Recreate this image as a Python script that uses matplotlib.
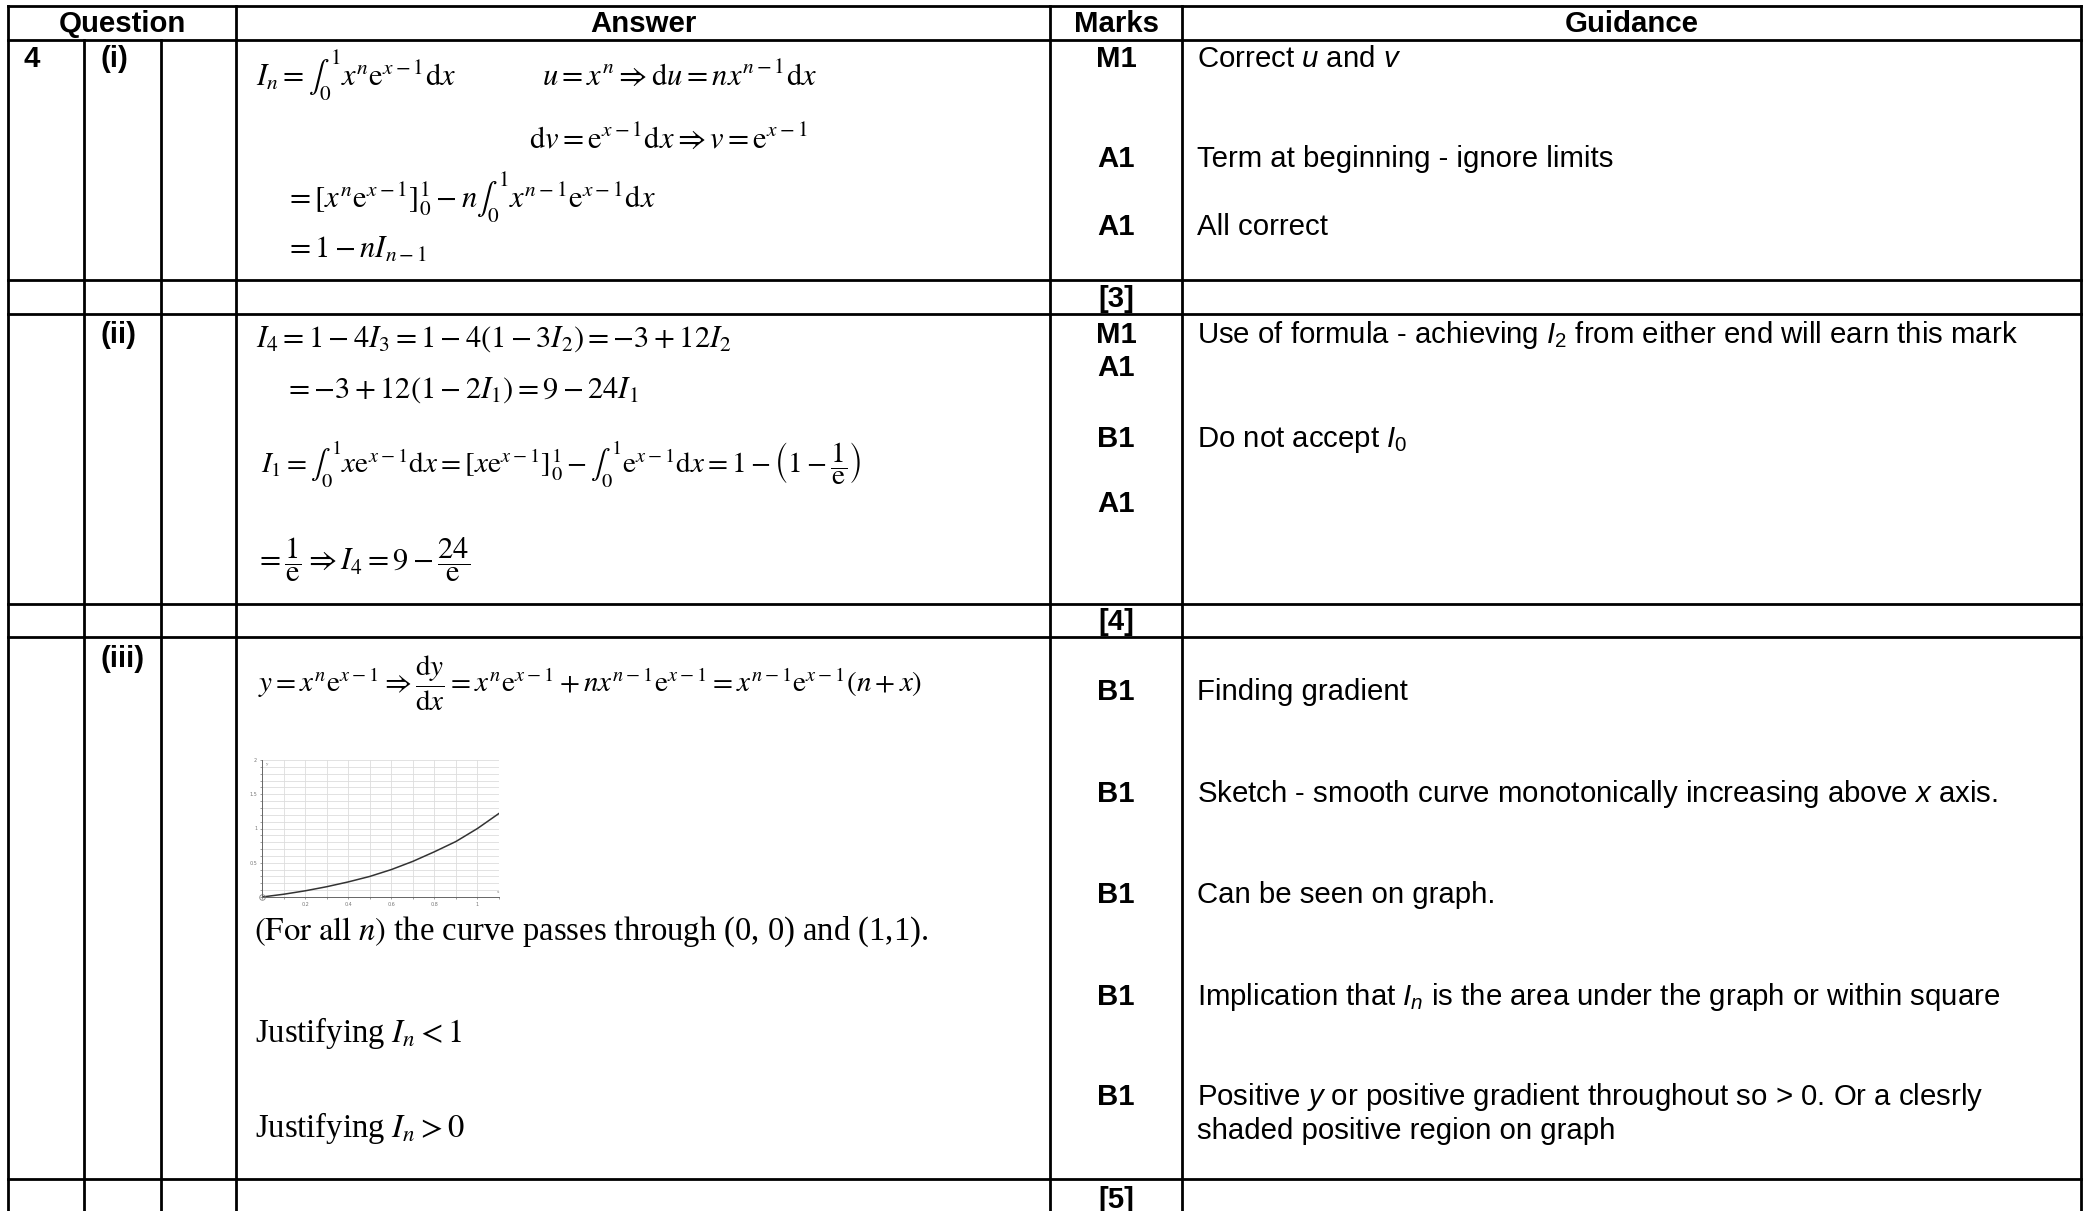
import matplotlib
matplotlib.use('Agg')  # no display
import matplotlib.pyplot as plt
from matplotlib.ticker import MultipleLocator

# sans text with italic maths letters (u, v, I_n ...) in the guidance column
plt.rcParams['mathtext.fontset'] = 'custom'
plt.rcParams['mathtext.rm'] = 'Liberation Sans'
plt.rcParams['mathtext.it'] = 'Liberation Sans:italic'
plt.rcParams['mathtext.bf'] = 'Liberation Sans:bold'

# ---- table content ----
headers = ['Question', 'Answer', 'Marks', 'Guidance']
question_no = '4'
parts = ['(i)', '(ii)', '(iii)']
totals = ['[3]', '[4]', '[5]']

answers_i = [
    r'$I_n=\int_0^1 x^n\mathrm{e}^{x-1}\mathrm{d}x$',
    r'$u=x^n\Rightarrow\mathrm{d}u=nx^{n-1}\mathrm{d}x$',
    r'$\mathrm{d}v=\mathrm{e}^{x-1}\mathrm{d}x\Rightarrow v=\mathrm{e}^{x-1}$',
    r'$=\left[x^n\mathrm{e}^{x-1}\right]_0^1-n\int_0^1 x^{n-1}\mathrm{e}^{x-1}\mathrm{d}x$',
    r'$=1-nI_{n-1}$',
]
marks_i = ['M1', 'A1', 'A1']
guidance_i = ['Correct $u$ and $v$', 'Term at beginning - ignore limits', 'All correct']

answers_ii = [
    r'$I_4=1-4I_3=1-4(1-3I_2)=-3+12I_2$',
    r'$=-3+12(1-2I_1)=9-24I_1$',
    r'$I_1=\int_0^1 x\mathrm{e}^{x-1}\mathrm{d}x=\left[x\mathrm{e}^{x-1}\right]_0^1-\int_0^1\mathrm{e}^{x-1}\mathrm{d}x=1-\left(1-\dfrac{1}{\mathrm{e}}\right)$',
    r'$=\dfrac{1}{\mathrm{e}}\Rightarrow I_4=9-\dfrac{24}{\mathrm{e}}$',
]
marks_ii = ['M1', 'A1', 'B1', 'A1']
guidance_ii = ['Use of formula - achieving $I_2$ from either end will earn this mark', '',
               'Do not accept $I_0$', '']

answers_iii = [
    r'$y=x^n\mathrm{e}^{x-1}\Rightarrow\dfrac{\mathrm{d}y}{\mathrm{d}x}=x^n\mathrm{e}^{x-1}+nx^{n-1}\mathrm{e}^{x-1}=x^{n-1}\mathrm{e}^{x-1}\left(n+x\right)$',
    r'$\left(\mathrm{For\ all\ }n\right)$ the curve passes through (0, 0) and (1,1).',
    r'Justifying $I_n<1$',
    r'Justifying $I_n>0$',
]
marks_iii = ['B1', 'B1', 'B1', 'B1', 'B1']
guidance_iii = ['Finding gradient',
                'Sketch - smooth curve monotonically increasing above $x$ axis.',
                'Can be seen on graph.',
                'Implication that $I_n$ is the area under the graph or within square',
                'Positive $y$ or positive gradient throughout so > 0. Or a clesrly',
                'shaded positive region on graph']

# sketch of y = x e^(x-1)
curve_x = [0, 0.1, 0.2, 0.3, 0.4, 0.5, 0.6, 0.7, 0.8, 0.9, 1.0, 1.1]
curve_y = [0, 0.04, 0.09, 0.15, 0.22, 0.30, 0.40, 0.52, 0.66, 0.81, 1.0, 1.22]
sketch_xticks = [0.2, 0.4, 0.6, 0.8, 1]
sketch_yticks = [0.5, 1, 1.5, 2]

# ---- layout (pixels) ----
W, H = 2094, 1211
cols = [8, 84, 161, 236, 1050, 1182, 2081]
rows = [6, 40, 280, 314, 604, 637, 1179]
ans_pos_i = [(256, 85), (542, 85), (529, 148), (285, 207), (285, 258)]
ans_pos_ii = [(256, 347), (284, 398), (261, 473), (255, 570)]
ans_pos_iii = [(258, 692), (254, 940), (255, 1042), (255, 1137)]
ans_size_i = [22, 22, 22, 22, 22]
ans_size_ii = [22, 22, 21, 22]
ans_size_iii = [21, 23.5, 23.5, 23.5]
mark_y_i = [67, 167, 235]
mark_y_ii = [343, 376, 447, 512]
mark_y_iii = [700, 802, 903, 1005, 1105, 1139]
part_y = [67, 343, 667]
total_y = [307, 630, 1208]

SANS = 21.2

fig = plt.figure(figsize=(W / 100, H / 100), dpi=100)
ax = fig.add_axes([0, 0, 1, 1])
ax.set_xlim(0, W)
ax.set_ylim(H, 0)
ax.axis('off')

lw = 2.0
# horizontal rules
for y in rows:
    ax.plot([cols[0], cols[-1]], [y, y], color='black', lw=lw, solid_capstyle='projecting')
# vertical rules
for x in [cols[0], cols[3], cols[4], cols[5], cols[6]]:
    ax.plot([x, x], [rows[0], H + 5], color='black', lw=lw, solid_capstyle='projecting')
for x in [cols[1], cols[2]]:
    ax.plot([x, x], [rows[1], H + 5], color='black', lw=lw, solid_capstyle='projecting')

# headers
head_x = [(cols[0] + cols[3]) / 2, (cols[3] + cols[4]) / 2,
          (cols[4] + cols[5]) / 2, (cols[5] + cols[6]) / 2]
for t, x in zip(headers, head_x):
    ax.text(x, 32, t, ha='center', va='baseline', fontsize=SANS,
            fontweight='bold', family='Liberation Sans')

ax.text(23, part_y[0], question_no, ha='left', va='baseline', fontsize=SANS,
        fontweight='bold', family='Liberation Sans')
for t, y in zip(parts, part_y):
    ax.text(101, y, t, ha='left', va='baseline', fontsize=SANS,
            fontweight='bold', family='Liberation Sans')

mark_x = (cols[4] + cols[5]) / 2
for t, y in zip(totals, total_y):
    ax.text(mark_x, y, t, ha='center', va='baseline', fontsize=SANS,
            fontweight='bold', family='Liberation Sans')


def answer_block(lines, pos, sizes):
    for t, (x, y), s in zip(lines, pos, sizes):
        ax.text(x, y, t, ha='left', va='baseline', fontsize=s,
                family='Liberation Serif', math_fontfamily='stix')


def mark_block(marks, guidance, ys):
    for t, y in zip(marks, ys):
        ax.text(mark_x, y, t, ha='center', va='baseline', fontsize=SANS,
                fontweight='bold', family='Liberation Sans')
    for t, y in zip(guidance, ys):
        if t:
            ax.text(1197, y, t, ha='left', va='baseline', fontsize=SANS,
                    family='Liberation Sans')


answer_block(answers_i, ans_pos_i, ans_size_i)
answer_block(answers_ii, ans_pos_ii, ans_size_ii)
answer_block(answers_iii, ans_pos_iii, ans_size_iii)
mark_block(marks_i, guidance_i, mark_y_i)
mark_block(marks_ii, guidance_ii, mark_y_ii)
mark_block(marks_iii, guidance_iii, mark_y_iii)

# small sketch graph inside the answer cell
gx0, gx1, gy0, gy1 = 262, 499, 760, 897
gax = fig.add_axes([gx0 / W, 1 - gy1 / H, (gx1 - gx0) / W, (gy1 - gy0) / H])
gax.set_xlim(0, 1.1)
gax.set_ylim(0, 2)
gax.xaxis.set_minor_locator(MultipleLocator(0.1))
gax.yaxis.set_minor_locator(MultipleLocator(0.1))
gax.set_xticks(sketch_xticks)
gax.set_yticks(sketch_yticks)
gax.set_xticklabels([f'{v:g}' for v in sketch_xticks])
gax.set_yticklabels([f'{v:g}' for v in sketch_yticks])
gax.grid(which='both', color='#dddddd', lw=0.6)
gax.set_axisbelow(True)
gax.tick_params(which='both', length=1.5, width=0.5, color='#777777',
                labelsize=3.5, labelcolor='#777777', pad=2)
for s in ['top', 'right']:
    gax.spines[s].set_visible(False)
for s in ['left', 'bottom']:
    gax.spines[s].set_color('#666666')
    gax.spines[s].set_linewidth(0.7)
gax.plot(curve_x, curve_y, color='#333333', lw=1.1)
gax.plot([0], [0], marker='o', ms=4, mfc='none', mec='#888888', mew=0.6, clip_on=False)
gax.text(0.02, 1.97, 'y', fontsize=3.5, color='#777777', va='top', family='Liberation Serif')
gax.text(1.09, 0.06, 'x', fontsize=3.5, color='#777777', family='Liberation Serif')

fig.savefig('out.png', dpi=100)
